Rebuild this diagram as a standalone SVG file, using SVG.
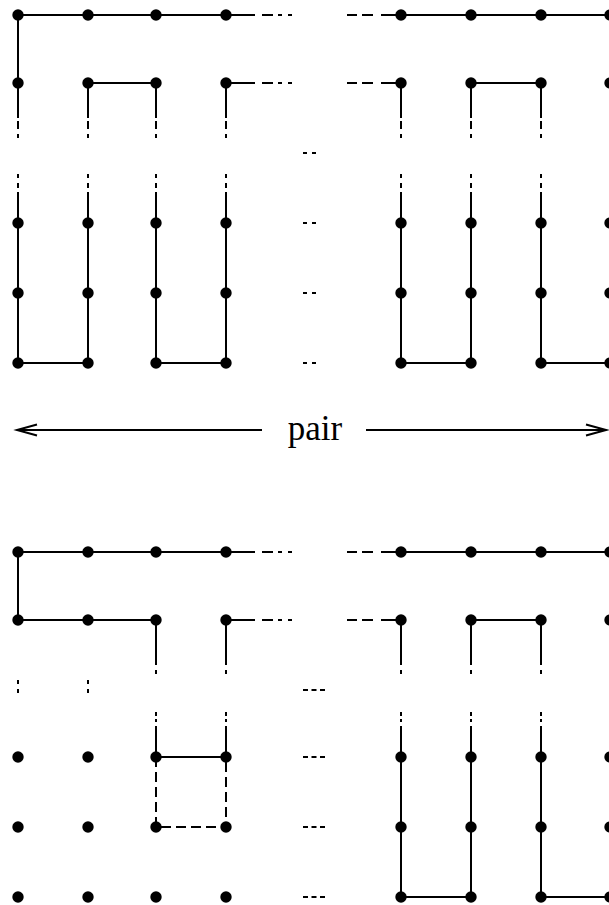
<svg xmlns="http://www.w3.org/2000/svg" width="609" height="905" viewBox="0 0 609 905">
<style>
.e{fill:none;stroke:#000;stroke-width:2}
.d{fill:none;stroke:#000;stroke-width:2;stroke-dasharray:10 5}
.n circle{fill:#000}
.lbl{font-family:"Liberation Serif","Times New Roman",serif;font-size:35px;fill:#000}
</style>
<defs>
<marker id="ah" markerUnits="userSpaceOnUse" markerWidth="30" markerHeight="20" refX="0" refY="0" orient="auto" overflow="visible">
<path d="M-20,-5.5 L0,0 L-20,5.5" fill="none" stroke="#000" stroke-width="2"/>
</marker>
</defs>
<rect width="609" height="905" fill="#fff"/>
<g id="connectors">
<!-- top diagram -->
<path class="e" d="M18 15H226M401 15H610M18 15V83M88 83H156M471 83H541"/>
<path class="e" d="M226 15H255M262 15H273M278 15H282M288 15H292M347 15H357M362 15H373M381 15H401"/>
<path class="e" d="M226 83H255M262 83H273M278 83H282M288 83H292M347 83H357M362 83H373M381 83H401"/>
<path class="e" d="M18 83V118M18 121V129M18 134V138M88 83V118M88 121V129M88 134V138M156 83V118M156 121V129M156 134V138M226 83V118M226 121V129M226 134V138M401 83V118M401 121V129M401 134V138M471 83V118M471 121V129M471 134V138M541 83V118M541 121V129M541 134V138"/>
<path class="e" d="M18 174V178M18 183V188M18 192V363M88 174V178M88 183V188M88 192V363M156 174V178M156 183V188M156 192V363M226 174V178M226 183V188M226 192V363M401 174V178M401 183V188M401 192V363M471 174V178M471 183V188M471 192V363M541 174V178M541 183V188M541 192V363"/>
<path class="e" d="M18 363H88M156 363H226M401 363H471M541 363H610"/>
<path class="e" d="M303 153H307M312 153H316M303 223H307M312 223H316M303 293H307M312 293H316M303 363H307M312 363H316"/>
<!-- pair arrow -->
<line class="e" x1="262" y1="430" x2="17" y2="430" marker-end="url(#ah)"/>
<line class="e" x1="366" y1="430" x2="606" y2="430" marker-end="url(#ah)"/>
<!-- bottom diagram -->
<path class="e" d="M18 552H226M401 552H610M18 552V620M18 620H156M471 620H541"/>
<path class="e" d="M226 552H255M262 552H273M278 552H282M288 552H292M347 552H357M362 552H373M381 552H401"/>
<path class="e" d="M226 620H255M262 620H273M278 620H282M288 620H292M347 620H357M362 620H373M381 620H401"/>
<path class="e" d="M156 620V665M156 670V674M226 620V665M226 670V674M401 620V665M401 670V674M471 620V665M471 670V674M541 620V665M541 670V674"/>
<path class="e" d="M18 680V684M18 689V693M88 680V684M88 689V693"/>
<path class="e" d="M156 712V716M156 719V722M156 726V757M226 712V716M226 719V722M226 726V757M401 712V716M401 719V722M401 726V897M471 712V716M471 719V722M471 726V897M541 712V716M541 719V722M541 726V897"/>
<path class="e" d="M156 757H226M401 897H471M541 897H610"/>
<path class="d" d="M156 757V827H226V757"/>
<path class="e" d="M303 690H308M311.5 690H316.5M320 690H325M303 757H308M311.5 757H316.5M320 757H325M303 827H308M311.5 827H316.5M320 827H325M303 897H308M311.5 897H316.5M320 897H325"/>
</g>
<text class="lbl" x="315" y="440" text-anchor="middle">pair</text>
<g id="top-nodes">
<g id="t00" class="n"><circle cx="18" cy="15" r="5.7"/></g>
<g id="t01" class="n"><circle cx="88" cy="15" r="5.7"/></g>
<g id="t02" class="n"><circle cx="156" cy="15" r="5.7"/></g>
<g id="t03" class="n"><circle cx="226" cy="15" r="5.7"/></g>
<g id="t04" class="n"><circle cx="401" cy="15" r="5.7"/></g>
<g id="t05" class="n"><circle cx="471" cy="15" r="5.7"/></g>
<g id="t06" class="n"><circle cx="541" cy="15" r="5.7"/></g>
<g id="t07" class="n"><circle cx="610" cy="15" r="5.7"/></g>
<g id="t10" class="n"><circle cx="18" cy="83" r="5.7"/></g>
<g id="t11" class="n"><circle cx="88" cy="83" r="5.7"/></g>
<g id="t12" class="n"><circle cx="156" cy="83" r="5.7"/></g>
<g id="t13" class="n"><circle cx="226" cy="83" r="5.7"/></g>
<g id="t14" class="n"><circle cx="401" cy="83" r="5.7"/></g>
<g id="t15" class="n"><circle cx="471" cy="83" r="5.7"/></g>
<g id="t16" class="n"><circle cx="541" cy="83" r="5.7"/></g>
<g id="t17" class="n"><circle cx="610" cy="83" r="5.7"/></g>
<g id="t20" class="n"><circle cx="18" cy="223" r="5.7"/></g>
<g id="t21" class="n"><circle cx="88" cy="223" r="5.7"/></g>
<g id="t22" class="n"><circle cx="156" cy="223" r="5.7"/></g>
<g id="t23" class="n"><circle cx="226" cy="223" r="5.7"/></g>
<g id="t24" class="n"><circle cx="401" cy="223" r="5.7"/></g>
<g id="t25" class="n"><circle cx="471" cy="223" r="5.7"/></g>
<g id="t26" class="n"><circle cx="541" cy="223" r="5.7"/></g>
<g id="t27" class="n"><circle cx="610" cy="223" r="5.7"/></g>
<g id="t30" class="n"><circle cx="18" cy="293" r="5.7"/></g>
<g id="t31" class="n"><circle cx="88" cy="293" r="5.7"/></g>
<g id="t32" class="n"><circle cx="156" cy="293" r="5.7"/></g>
<g id="t33" class="n"><circle cx="226" cy="293" r="5.7"/></g>
<g id="t34" class="n"><circle cx="401" cy="293" r="5.7"/></g>
<g id="t35" class="n"><circle cx="471" cy="293" r="5.7"/></g>
<g id="t36" class="n"><circle cx="541" cy="293" r="5.7"/></g>
<g id="t37" class="n"><circle cx="610" cy="293" r="5.7"/></g>
<g id="t40" class="n"><circle cx="18" cy="363" r="5.7"/></g>
<g id="t41" class="n"><circle cx="88" cy="363" r="5.7"/></g>
<g id="t42" class="n"><circle cx="156" cy="363" r="5.7"/></g>
<g id="t43" class="n"><circle cx="226" cy="363" r="5.7"/></g>
<g id="t44" class="n"><circle cx="401" cy="363" r="5.7"/></g>
<g id="t45" class="n"><circle cx="471" cy="363" r="5.7"/></g>
<g id="t46" class="n"><circle cx="541" cy="363" r="5.7"/></g>
<g id="t47" class="n"><circle cx="610" cy="363" r="5.7"/></g>
</g>
<g id="bottom-nodes">
<g id="b00" class="n"><circle cx="18" cy="552" r="5.7"/></g>
<g id="b01" class="n"><circle cx="88" cy="552" r="5.7"/></g>
<g id="b02" class="n"><circle cx="156" cy="552" r="5.7"/></g>
<g id="b03" class="n"><circle cx="226" cy="552" r="5.7"/></g>
<g id="b04" class="n"><circle cx="401" cy="552" r="5.7"/></g>
<g id="b05" class="n"><circle cx="471" cy="552" r="5.7"/></g>
<g id="b06" class="n"><circle cx="541" cy="552" r="5.7"/></g>
<g id="b07" class="n"><circle cx="610" cy="552" r="5.7"/></g>
<g id="b10" class="n"><circle cx="18" cy="620" r="5.7"/></g>
<g id="b11" class="n"><circle cx="88" cy="620" r="5.7"/></g>
<g id="b12" class="n"><circle cx="156" cy="620" r="5.7"/></g>
<g id="b13" class="n"><circle cx="226" cy="620" r="5.7"/></g>
<g id="b14" class="n"><circle cx="401" cy="620" r="5.7"/></g>
<g id="b15" class="n"><circle cx="471" cy="620" r="5.7"/></g>
<g id="b16" class="n"><circle cx="541" cy="620" r="5.7"/></g>
<g id="b17" class="n"><circle cx="610" cy="620" r="5.7"/></g>
<g id="b20" class="n"><circle cx="18" cy="757" r="5.7"/></g>
<g id="b21" class="n"><circle cx="88" cy="757" r="5.7"/></g>
<g id="b22" class="n"><circle cx="156" cy="757" r="5.7"/></g>
<g id="b23" class="n"><circle cx="226" cy="757" r="5.7"/></g>
<g id="b24" class="n"><circle cx="401" cy="757" r="5.7"/></g>
<g id="b25" class="n"><circle cx="471" cy="757" r="5.7"/></g>
<g id="b26" class="n"><circle cx="541" cy="757" r="5.7"/></g>
<g id="b27" class="n"><circle cx="610" cy="757" r="5.7"/></g>
<g id="b30" class="n"><circle cx="18" cy="827" r="5.7"/></g>
<g id="b31" class="n"><circle cx="88" cy="827" r="5.7"/></g>
<g id="b32" class="n"><circle cx="156" cy="827" r="5.7"/></g>
<g id="b33" class="n"><circle cx="226" cy="827" r="5.7"/></g>
<g id="b34" class="n"><circle cx="401" cy="827" r="5.7"/></g>
<g id="b35" class="n"><circle cx="471" cy="827" r="5.7"/></g>
<g id="b36" class="n"><circle cx="541" cy="827" r="5.7"/></g>
<g id="b37" class="n"><circle cx="610" cy="827" r="5.7"/></g>
<g id="b40" class="n"><circle cx="18" cy="897" r="5.7"/></g>
<g id="b41" class="n"><circle cx="88" cy="897" r="5.7"/></g>
<g id="b42" class="n"><circle cx="156" cy="897" r="5.7"/></g>
<g id="b43" class="n"><circle cx="226" cy="897" r="5.7"/></g>
<g id="b44" class="n"><circle cx="401" cy="897" r="5.7"/></g>
<g id="b45" class="n"><circle cx="471" cy="897" r="5.7"/></g>
<g id="b46" class="n"><circle cx="541" cy="897" r="5.7"/></g>
<g id="b47" class="n"><circle cx="610" cy="897" r="5.7"/></g>
</g>
</svg>
